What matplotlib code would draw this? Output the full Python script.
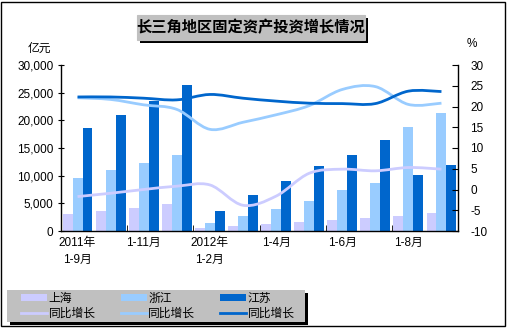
import matplotlib
matplotlib.use('Agg')
import matplotlib.pyplot as plt
import matplotlib.patches as patches
from matplotlib.path import Path
from matplotlib.lines import Line2D
import numpy as np

plt.rcParams['font.family'] = ['Liberation Sans', 'Noto Sans CJK SC']

# data
periods = ['2011年\n1-9月', '1-10月', '1-11月', '1-12月', '2012年\n1-2月', '1-3月',
           '1-4月', '1-5月', '1-6月', '1-7月', '1-8月', '1-9月']
shanghai = [3070, 3600, 4160, 4880, 540, 900, 1270, 1630, 1990, 2350, 2700, 3250]
zhejiang = [9580, 11000, 12300, 13700, 1450, 2700, 3980, 5420, 7400, 8670, 18800, 21300]
jiangsu = [18600, 20960, 23500, 26400, 3600, 6500, 9040, 11750, 13700, 16400, 10100, 11900]
sh_growth = [-1.7, -0.9, 0.0, 0.8, 1.1, -3.8, -1.6, 3.9, 4.9, 4.5, 5.3, 4.9]
zj_growth = [22.1, 21.7, 20.4, 19.3, 14.5, 16.2, 18.0, 20.2, 24.1, 24.8, 20.5, 20.8]
js_growth = [22.3, 22.3, 22.0, 21.6, 22.9, 22.0, 21.3, 20.8, 20.7, 20.7, 23.7, 23.6]

C_SH = '#CCCCFF'
C_ZJ = '#99CCFF'
C_JS = '#0066CC'

W, H = 509, 328
fig = plt.figure(figsize=(W / 100, H / 100), dpi=100)
fig.patch.set_facecolor('white')


def px(x0, y0, h):
    # top-left pixel corner -> lower-left figure fraction
    return (x0 / W, 1 - (y0 + h) / H)


ax = fig.add_axes([61 / W, 1 - 231 / H, (458 - 61) / W, (231 - 65) / H])
ax2 = ax.twinx()

x = np.arange(len(periods))
bw = 0.3
ax.bar(x - bw, shanghai, bw, color=C_SH, linewidth=0)
ax.bar(x, zhejiang, bw, color=C_ZJ, linewidth=0)
ax.bar(x + bw, jiangsu, bw, color=C_JS, linewidth=0)


def smooth_path(xs, ys):
    pts = np.column_stack([xs, ys]).astype(float)
    verts = [pts[0]]
    codes = [Path.MOVETO]
    n = len(pts)
    for i in range(n - 1):
        p0 = pts[i - 1] if i > 0 else pts[i]
        p1 = pts[i]
        p2 = pts[i + 1]
        p3 = pts[i + 2] if i + 2 < n else pts[i + 1]
        verts += [p1 + (p2 - p0) / 6, p2 - (p3 - p1) / 6, p2]
        codes += [Path.CURVE4] * 3
    return Path(verts, codes)


for vals, col in [(sh_growth, C_SH), (zj_growth, C_ZJ), (js_growth, C_JS)]:
    ax2.add_patch(patches.PathPatch(smooth_path(x, vals), fill=False,
                                    edgecolor=col, linewidth=2, zorder=3))

ax.set_xlim(-0.5, len(periods) - 0.5)
ax.set_ylim(0, 30000)
ax2.set_ylim(-10, 30)
ax.set_yticks(range(0, 30001, 5000))
ax.set_yticklabels([f'{v:,}' for v in range(0, 30001, 5000)], fontsize=8.5)
ax2.set_yticks(range(-10, 31, 5))
ax2.set_yticklabels([str(v) for v in range(-10, 31, 5)], fontsize=8.5)
ax.set_xticks(x[::2])
ax.set_xticklabels(periods[::2], fontsize=8.5, linespacing=1.6)
ax.set_xticks(np.arange(-0.5, len(periods), 2), minor=True)
ax.tick_params(axis='x', which='major', length=0, pad=4)
ax.tick_params(axis='x', which='minor', length=4, direction='in')
ax.tick_params(axis='y', length=5, direction='inout', pad=3)
ax2.tick_params(axis='y', length=4, direction='in', pad=9)
for a in (ax, ax2):
    a.spines['top'].set_visible(False)
    for s in a.spines.values():
        s.set_linewidth(1)
ax2.spines['left'].set_visible(False)
ax2.spines['bottom'].set_visible(False)
ax.spines['right'].set_visible(False)
ax.set_facecolor('none')

fig.text(28 / W, 1 - 49 / H, '亿元', fontsize=8.5, va='center', ha='left')
fig.text(472 / W, 1 - 44 / H, '%', fontsize=8.5, va='center', ha='center')

# title box with shadow
fig.patches.append(patches.Rectangle(px(140, 18, 25), 228 / W, 25 / H,
                                     transform=fig.transFigure, facecolor='black',
                                     edgecolor='none', zorder=1))
fig.patches.append(patches.Rectangle(px(137, 15, 25), 228 / W, 25 / H,
                                     transform=fig.transFigure, facecolor='#C0C0C0',
                                     edgecolor='#C0C0C0', linewidth=0.8, zorder=2))
fig.text(251 / W, 1 - 27.5 / H, '长三角地区固定资产投资增长情况', fontsize=11,
         fontweight='bold', ha='center', va='center', zorder=3)

# legend box with shadow
fig.patches.append(patches.Rectangle(px(10, 293, 32), 298 / W, 32 / H,
                                     transform=fig.transFigure, facecolor='black',
                                     edgecolor='none', zorder=1))
fig.patches.append(patches.Rectangle(px(7, 290, 32), 298 / W, 32 / H,
                                     transform=fig.transFigure, facecolor='#C0C0C0',
                                     edgecolor='none', zorder=2))
handles = [
    patches.Patch(facecolor=C_SH, edgecolor='none'),
    Line2D([], [], color=C_SH, lw=2),
    patches.Patch(facecolor=C_ZJ, edgecolor='none'),
    Line2D([], [], color=C_ZJ, lw=2),
    patches.Patch(facecolor=C_JS, edgecolor='none'),
    Line2D([], [], color=C_JS, lw=2),
]
labels = ['上海', '同比增长', '浙江', '同比增长', '江苏', '同比增长']
leg = fig.legend(handles, labels, ncol=3, loc='center',
                 bbox_to_anchor=(158 / W, 1 - 306 / H), frameon=False,
                 fontsize=8.5, handlelength=2.2, handleheight=0.55,
                 handletextpad=0.15, columnspacing=2.1, labelspacing=0.25,
                 borderpad=0, borderaxespad=0)
leg.set_zorder(5)

# outer border
fig.patches.append(patches.Rectangle((1 / W, 2 / H), (505 - 1) / W, (326 - 2) / H,
                                     transform=fig.transFigure, fill=False,
                                     edgecolor='black', linewidth=1, zorder=6))

fig.savefig('out.png', dpi=100, facecolor='white')
